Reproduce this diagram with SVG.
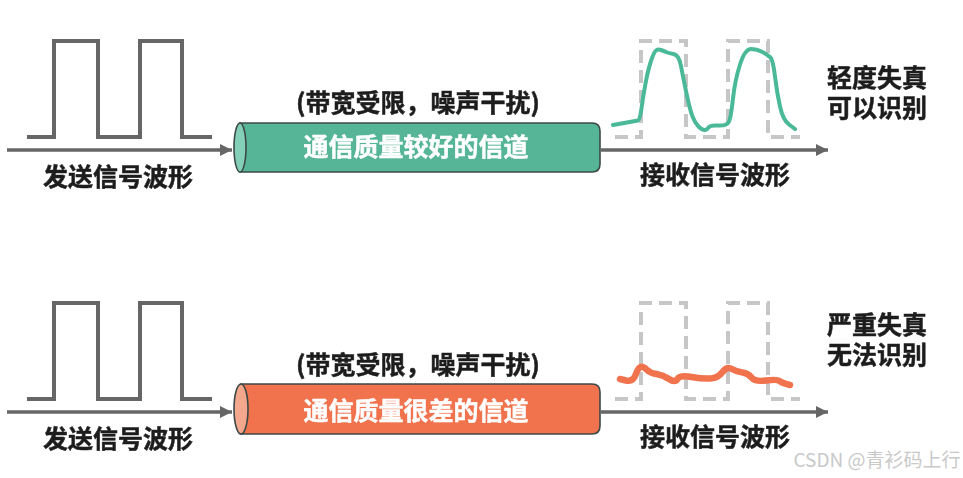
<svg xmlns="http://www.w3.org/2000/svg" width="963" height="478" viewBox="0 0 963 478">
<style>
text{font-family:"Noto Sans CJK SC","Liberation Sans",sans-serif;font-weight:700;font-size:25px;fill:#1f1f1f;text-anchor:middle;stroke:#1f1f1f;stroke-width:.5}
.w{fill:#fff;stroke:#fff}
.pulse{fill:none;stroke:#666;stroke-width:4}
.dash{fill:none;stroke:#c6c6c6;stroke-width:4;stroke-dasharray:13 7}
.arr{stroke:#666;stroke-width:3.5;fill:none;marker-end:url(#a)}
.cyl{stroke:#3d4a47;stroke-width:1.6}
.cv{fill:none;stroke-linejoin:round;stroke-linecap:round}
</style>
<defs>
<marker id="a" markerUnits="userSpaceOnUse" markerWidth="14" markerHeight="14" refX="12" refY="7" orient="auto"><path d="M0 1L12 7L0 13Z" fill="#666"/></marker>
<filter id="b" x="-5%" y="-5%" width="110%" height="110%"><feGaussianBlur stdDeviation="0.55"/></filter>
<path id="p" d="M27 137H54V41H98V137H140V41H182V137H212"/>
</defs>
<rect width="963" height="478" fill="#fff"/>
<g filter="url(#b)">
<g id="connectors">
<path class="arr" d="M7 150H232"/>
<path class="arr" d="M601 150H828"/>
<path class="arr" d="M7 412H232"/>
<path class="arr" d="M601 412H828"/>
</g>
<g id="send-top"><use href="#p" class="pulse"/><text x="118" y="186">发送信号波形</text></g>
<g id="send-bottom"><use href="#p" class="pulse" y="262"/><text x="118" y="448">发送信号波形</text></g>
<g id="channel-top">
<text x="418" y="112">(带宽受限，噪声干扰)</text>
<path class="cyl" fill="#54b596" d="M240 123H592Q600 123 600 131V164Q600 172 592 172H240Z"/>
<ellipse class="cyl" cx="240" cy="147.500" rx="6" ry="24.500" fill="#84cfb8"/>
<text class="w" x="416" y="156">通信质量较好的信道</text>
</g>
<g id="channel-bottom">
<text x="418" y="374">(带宽受限，噪声干扰)</text>
<path class="cyl" fill="#f0734d" d="M241 384H592Q600 384 600 392V426Q600 434 592 434H241Z"/>
<ellipse class="cyl" cx="241" cy="409" rx="7" ry="25" fill="#f3a78d"/>
<text class="w" x="416" y="420">通信质量很差的信道</text>
</g>
<g id="recv-top">
<path class="dash" d="M615 137H641V41H686V137H728V41H768V137H800"/>
<path class="cv" stroke="#4ab998" stroke-width="4" d="M613 125L638 120.500Q640 120 641.500 108.500Q643 97 645.500 83.500Q648 70 651 61Q654 52 656 50.500Q658 49 661 50Q664 51 666 52Q668 53 673.500 54Q679 55 681 66Q683 77 686.500 93.500Q690 110 692.500 116.500Q695 123 698.500 126.500Q702 130 704.500 130Q707 130 708.500 127.500Q710 125 718 125.500Q727 126 729 121.500Q731 117 733 98.500Q735 80 740 64.500Q745 49 751 49Q757 49 762.500 52Q768 55 770.500 57.500Q773 60 775 76.500Q777 93 780 106.500Q783 120 789 124.500L795 129"/>
<text x="715" y="184">接收信号波形</text>
</g>
<g id="recv-bottom">
<path class="dash" d="M615 399H641V303H686V399H728V303H768V399H800"/>
<path class="cv" stroke="#f0734d" stroke-width="6.500" d="M620 379L626 380.500Q633 382 635.500 375Q638 368 640.500 367Q643 366 646.500 369.500Q650 373 656.500 374Q663 375 669 379Q675 383 677.500 379Q680 375 691.500 377Q703 379 710.500 378.500Q718 378 722.500 372Q727 366 732 369Q737 372 742.500 372.500Q748 373 751.500 377.500Q755 382 766 380.500Q777 379 779.500 381Q782 383 790 385"/>
<text x="715" y="446">接收信号波形</text>
</g>
<g id="note-top"><text x="877" y="87"><tspan x="877">轻度失真</tspan><tspan x="877" dy="30">可以识别</tspan></text></g>
<g id="note-bottom"><text x="877" y="334"><tspan x="877">严重失真</tspan><tspan x="877" dy="30">无法识别</tspan></text></g>
</g>
<text x="877" y="467" style="font-size:19px;font-weight:400;fill:#c9c9c9;stroke:none">CSDN @青衫码上行</text>
</svg>
